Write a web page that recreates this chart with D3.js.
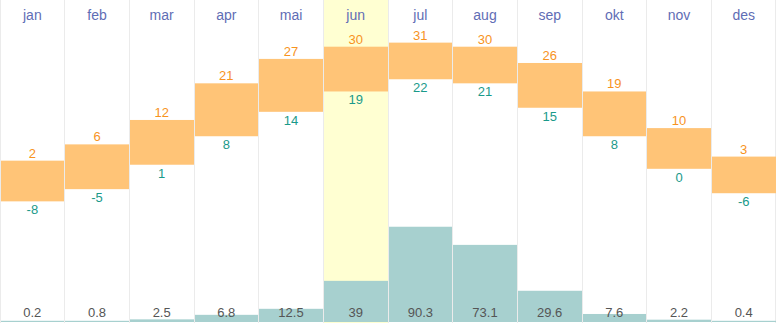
<!DOCTYPE html>
<html>
<head>
<meta charset="utf-8">
<script src="https://cdn.jsdelivr.net/npm/d3@7"></script>
<style>
  html, body { margin: 0; padding: 0; background: #fff; }
  svg { display: block; font-family: "Liberation Sans", Arial, sans-serif; }
</style>
</head>
<body>
<div id="chart"></div>
<script>
// Monthly climate: temperature range (°C) and precipitation (mm)
const months = ["jan","feb","mar","apr","mai","jun","jul","aug","sep","okt","nov","des"];
const tempMax = [2, 6, 12, 21, 27, 30, 31, 30, 26, 19, 10, 3];
const tempMin = [-8, -5, 1, 8, 14, 19, 22, 21, 15, 8, 0, -6];
const precip = [0.2, 0.8, 2.5, 6.8, 12.5, 39, 90.3, 73.1, 29.6, 7.6, 2.2, 0.4];
const highlightMonth = "jun";

const W = 776, H = 323;

const svg = d3.select("#chart").append("svg")
  .attr("width", W).attr("height", H);

const x = d3.scaleBand().domain(months).range([0, W]).padding(0);
const colLeft = d => Math.floor(x(d));
const colRight = d => Math.floor(x(d) + x.bandwidth());

// temperature: 0 °C sits at y≈168.8, ~4.07 px per degree
const yT = d3.scaleLinear().domain([-10, 35]).range([209.5, 26.35]);
// precipitation grows up from the bottom edge
const yP = d3.scaleLinear().domain([0, 100]).range([322, 216.5]);

// highlighted month column
svg.append("rect")
  .attr("x", colLeft(highlightMonth) + 1)
  .attr("y", 0)
  .attr("width", colRight(highlightMonth) - colLeft(highlightMonth) - 1)
  .attr("height", H)
  .attr("fill", "#ffffd2");

// column separators
const edges = months.map(colLeft).concat([W - 1]);
svg.selectAll("line.grid").data(edges).join("line")
  .attr("class", "grid")
  .attr("x1", d => d + 0.5).attr("x2", d => d + 0.5)
  .attr("y1", 0).attr("y2", H)
  .attr("stroke", "#ebebeb").attr("stroke-width", 1);

// month names
svg.selectAll("text.month").data(months).join("text")
  .attr("class", "month")
  .attr("x", d => x(d) + x.bandwidth() / 2)
  .attr("y", 20)
  .attr("text-anchor", "middle")
  .attr("font-size", 14)
  .attr("fill", "#5f6db5")
  .text(d => d);

// precipitation bars
svg.selectAll("rect.precip").data(months).join("rect")
  .attr("class", "precip")
  .attr("x", d => colLeft(d) + 1)
  .attr("width", d => colRight(d) - colLeft(d) - 1)
  .attr("y", (d, i) => Math.min(yP(precip[i]), yP(0) - 1.2))
  .attr("height", (d, i) => Math.max(yP(0) - yP(precip[i]), 1.2))
  .attr("fill", "#a7d0cf");

svg.selectAll("text.precip").data(months).join("text")
  .attr("class", "precip")
  .attr("x", d => x(d) + x.bandwidth() / 2)
  .attr("y", 317)
  .attr("text-anchor", "middle")
  .attr("font-size", 13)
  .attr("fill", "#555")
  .text((d, i) => precip[i]);

// temperature range bars
svg.selectAll("rect.temp").data(months).join("rect")
  .attr("class", "temp")
  .attr("x", d => colLeft(d) + 1)
  .attr("width", d => colRight(d) - colLeft(d) - 1)
  .attr("y", (d, i) => yT(tempMax[i]))
  .attr("height", (d, i) => yT(tempMin[i]) - yT(tempMax[i]))
  .attr("fill", "#ffc477");

svg.selectAll("text.tmax").data(months).join("text")
  .attr("class", "tmax")
  .attr("x", d => x(d) + x.bandwidth() / 2)
  .attr("y", (d, i) => yT(tempMax[i]) - 3)
  .attr("text-anchor", "middle")
  .attr("font-size", 13)
  .attr("fill", "#f7931e")
  .text((d, i) => tempMax[i]);

svg.selectAll("text.tmin").data(months).join("text")
  .attr("class", "tmin")
  .attr("x", d => x(d) + x.bandwidth() / 2)
  .attr("y", (d, i) => yT(tempMin[i]) + 13)
  .attr("text-anchor", "middle")
  .attr("font-size", 13)
  .attr("fill", "#1a9a8a")
  .text((d, i) => tempMin[i]);
</script>
</body>
</html>
